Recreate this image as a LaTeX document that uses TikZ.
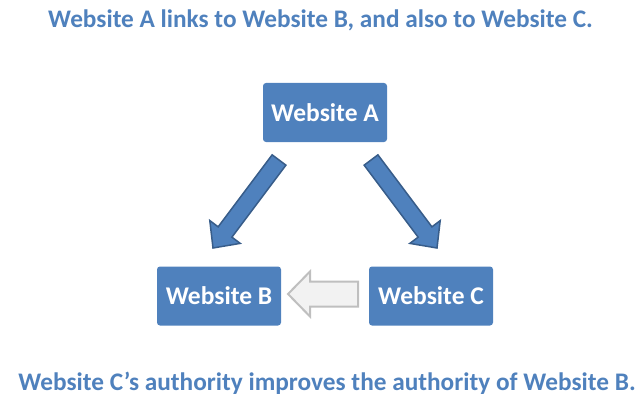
\documentclass[tikz,border=0pt]{standalone}
\usepackage{fontspec}
\setmainfont{Carlito}
\usetikzlibrary{positioning,calc}
\definecolor{officeblue}{HTML}{4F81BD}
\definecolor{darkblue}{HTML}{385D8A}
\definecolor{lightgrey}{HTML}{F2F2F2}
\definecolor{midgrey}{HTML}{BFBFBF}
\tikzset{
  site/.style = {fill=officeblue, rounded corners=3pt, minimum width=124pt, minimum height=59pt,
                 text=white, font=\fontsize{25.5}{30}\selectfont\bfseries},
  caption/.style = {text=officeblue, font=\fontsize{25.3}{30}\selectfont\bfseries},
  linkarrow/.style = {fill=officeblue, draw=darkblue, line width=1.5pt, line join=miter},
  gainarrow/.style = {fill=lightgrey, draw=midgrey, line width=2pt, line join=miter}
}
% block arrow: tail, tip, half shaft width, half head width, head length
\newcommand{\blockarrow}[6]{%
  \coordinate (hb) at ($(#2)!#5!(#1)$);
  \draw[#6] ($(#1)!#3!90:(#2)$) -- ($(hb)!#3!90:(#2)$) -- ($(hb)!#4!90:(#2)$) -- (#2)
    -- ($(hb)!#4!-90:(#2)$) -- ($(hb)!#3!-90:(#2)$) -- ($(#1)!#3!-90:(#2)$) -- cycle;
}
\begin{document}
\begin{tikzpicture}[x = 1pt, y = -1pt]
\useasboundingbox (0, 0) rectangle (642, 409);

\node[caption] (top) at (320.5, 20) {Website A links to Website B, and also to Website C.};
\node[caption] (bottom) at (327, 383) {Website C’s authority improves the authority of Website B.};

\node[site] (a) at (325, 112.5) {Website A};
\node[site] (b) at (219, 296) {Website B};
\node[site] (c) at (431, 296) {Website C};

\coordinate (ab1) at (279, 160);
\coordinate (ab2) at (213, 248);
\coordinate (ac1) at (371, 160);
\coordinate (ac2) at (437, 248);
\coordinate (cb1) at (358, 294);
\coordinate (cb2) at (288, 294);

\blockarrow{ab1}{ab2}{8.6pt}{19pt}{20pt}{linkarrow}
\blockarrow{ac1}{ac2}{8.6pt}{19pt}{20pt}{linkarrow}
\blockarrow{cb1}{cb2}{12.5pt}{22.5pt}{22pt}{gainarrow}

\end{tikzpicture}
\end{document}
